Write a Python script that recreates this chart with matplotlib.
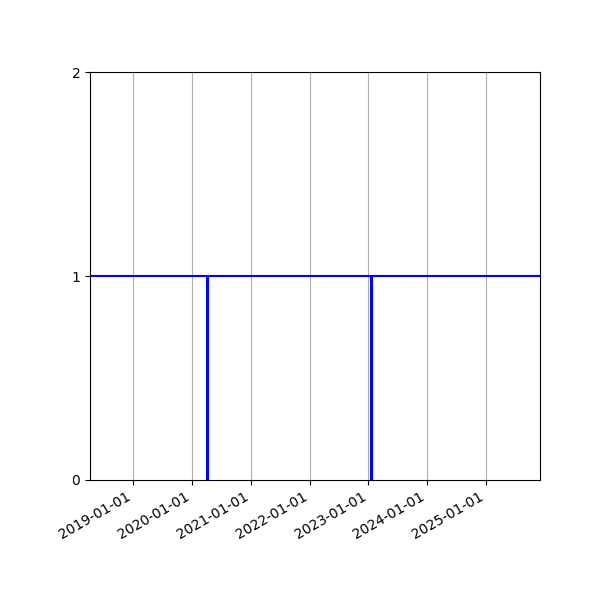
import numpy as np
import pandas as pd
import matplotlib
matplotlib.use("Agg")
import matplotlib.pyplot as plt
import matplotlib.dates as mdates

# status series (1 = up, 0 = down)
dates = ['2018-04-10', '2020-04-08', '2020-04-14', '2023-01-17', '2023-01-23', '2025-12-01']
values = [1, 0, 1, 0, 1, 1]
yticks = [0, 1, 2]

def main():
	x = pd.to_datetime(dates)

	fig, ax = plt.subplots(figsize=(6, 6), dpi=100)
	ax.plot(x, values, color='blue', linewidth=1.5, drawstyle='steps-post')

	ax.set_xlim(x[0], x[-1])
	ax.set_ylim(0, 2)
	ax.set_yticks(yticks)

	ax.xaxis.set_major_locator(mdates.YearLocator())
	ax.xaxis.set_major_formatter(mdates.DateFormatter('%Y-%m-%d'))
	ax.grid(True, axis='x')

	fig.autofmt_xdate()
	fig.subplots_adjust(left=0.15, right=0.9, top=0.88, bottom=0.2)

	fig.savefig('out.png')


if __name__ == "__main__":
	main()
